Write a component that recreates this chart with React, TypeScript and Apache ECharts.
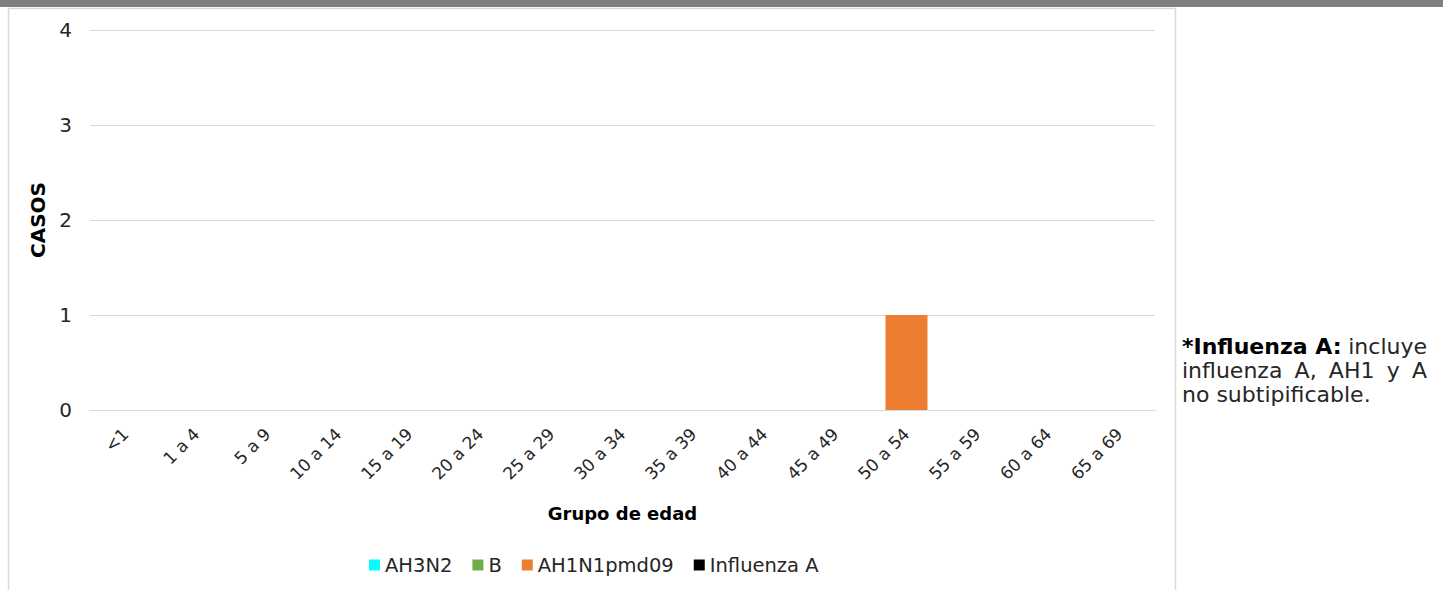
import React, { useEffect, useRef } from "react";
import * as echarts from "echarts";

const categories = ["<1", "1 a 4", "5 a 9", "10 a 14", "15 a 19", "20 a 24", "25 a 29", "30 a 34", "35 a 39", "40 a 44", "45 a 49", "50 a 54", "55 a 59", "60 a 64", "65 a 69"];
const seriesNames = ["AH3N2", "B", "AH1N1pmd09", "Influenza A"];
const seriesColors = ["#00FFFF", "#70AD47", "#ED7D31", "#000000"];
const ah3n2 = [0, 0, 0, 0, 0, 0, 0, 0, 0, 0, 0, 0, 0, 0, 0];
const b = [0, 0, 0, 0, 0, 0, 0, 0, 0, 0, 0, 0, 0, 0, 0];
const ah1n1 = [0, 0, 0, 0, 0, 0, 0, 0, 0, 0, 0, 1, 0, 0, 0];
const influenzaA = [0, 0, 0, 0, 0, 0, 0, 0, 0, 0, 0, 0, 0, 0, 0];
const seriesData = [ah3n2, b, ah1n1, influenzaA];
const yTicks = { min: 0, max: 4, interval: 1 };

const noteBold = "*Influenza A:";
const noteLine1Rest = "incluye";
const noteLine2Words = ["influenza", "A,", "AH1", "y", "A"];
const noteLine3 = "no subtipificable.";

const FONT = "'DejaVu Sans', sans-serif";
const NOTE_SIZE = 22;
const NOTE_LEFT = 1182;
const NOTE_RIGHT = 1427;

function measure(text: string, bold: boolean): number {
  const c = document.createElement("canvas");
  const ctx = c.getContext("2d");
  if (!ctx) return text.length * NOTE_SIZE * 0.6;
  ctx.font = `${bold ? "bold " : ""}${NOTE_SIZE}px 'DejaVu Sans'`;
  return ctx.measureText(text).width;
}

export default function App() {
  const ref = useRef<HTMLDivElement>(null);
  useEffect(() => {
    if (!ref.current) return;
    const chart = echarts.init(ref.current, undefined, { renderer: "svg" });

    const y1 = 346, y2 = 370, y3 = 394;
    const noteStyle = { fontSize: NOTE_SIZE, fill: "#262626", fontFamily: FONT, textVerticalAlign: "middle" };
    const noteEls: any[] = [
      { type: "text", style: { ...noteStyle, text: noteBold, x: NOTE_LEFT, y: y1, textAlign: "left", fontWeight: "bold", fill: "#000" } },
      { type: "text", style: { ...noteStyle, text: noteLine1Rest, x: NOTE_RIGHT, y: y1, textAlign: "right" } },
      { type: "text", style: { ...noteStyle, text: noteLine3, x: NOTE_LEFT, y: y3, textAlign: "left" } },
    ];
    const widths = noteLine2Words.map((w) => measure(w, false));
    const total = widths.reduce((a, v) => a + v, 0);
    const gap = (NOTE_RIGHT - NOTE_LEFT - total) / (noteLine2Words.length - 1);
    let cx = NOTE_LEFT;
    noteLine2Words.forEach((w, i) => {
      noteEls.push({ type: "text", style: { ...noteStyle, text: w, x: cx, y: y2, textAlign: "left" } });
      cx += widths[i] + gap;
    });

    chart.setOption({
      animation: false,
      textStyle: { fontFamily: FONT },
      grid: { left: 90, right: 292, top: 30, bottom: 180 },
      legend: {
        data: seriesNames,
        top: 555,
        left: 369,
        padding: 0,
        itemWidth: 11,
        itemHeight: 11,
        itemGap: 20,
        icon: "rect",
        textStyle: { fontSize: 19.5, color: "#262626", fontFamily: FONT },
      },
      xAxis: {
        type: "category",
        data: categories,
        name: "Grupo de edad",
        nameLocation: "middle",
        nameGap: 94,
        nameTextStyle: { fontSize: 18, fontWeight: "bold", color: "#000", fontFamily: FONT },
        axisLine: { lineStyle: { color: "#d9d9d9" } },
        axisTick: { show: false },
        axisLabel: { rotate: 45, fontSize: 17, color: "#262626", margin: 21, interval: 0 },
      },
      yAxis: {
        type: "value",
        min: yTicks.min,
        max: yTicks.max,
        interval: yTicks.interval,
        name: "CASOS",
        nameLocation: "middle",
        nameGap: 34,
        nameTextStyle: { fontSize: 20, fontWeight: "bold", color: "#000", fontFamily: FONT },
        axisLabel: { fontSize: 20, color: "#262626", margin: 18 },
        splitLine: { lineStyle: { color: "#d9d9d9" } },
        axisLine: { show: false },
        axisTick: { show: false },
      },
      series: seriesNames.map((name, i) => ({
        name,
        type: "bar",
        stack: "total",
        data: seriesData[i],
        barWidth: 42,
        itemStyle: { color: seriesColors[i] },
      })),
      graphic: [
        { type: "rect", left: 0, top: 0, shape: { width: 1443, height: 7 }, style: { fill: "#808080" }, silent: true },
        { type: "rect", shape: { x: 8.5, y: 8.5, width: 1167, height: 600 }, style: { fill: "none", stroke: "#d9d9d9", lineWidth: 1.5 }, silent: true },
        ...noteEls,
      ],
    });
    return () => chart.dispose();
  }, []);
  return <div ref={ref} style={{ position: "fixed", left: 0, top: 0, width: 1447, height: 590, background: "#fff" }} />;
}
